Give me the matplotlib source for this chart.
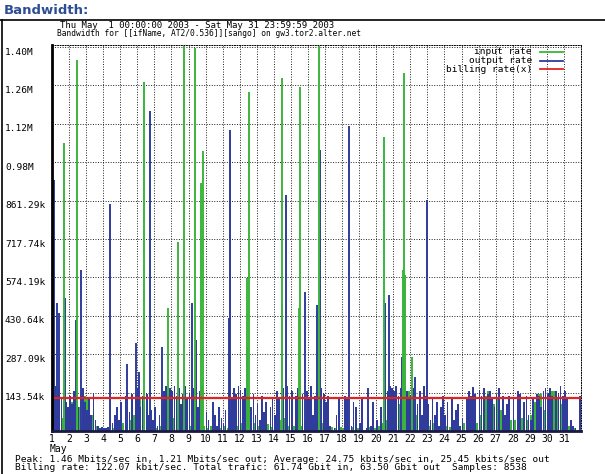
import numpy as np
import matplotlib.pyplot as plt
import matplotlib.transforms as mtransforms
from matplotlib.lines import Line2D

# ------------------------------------------------------------------
# data (kbit/s), May 2003
# ------------------------------------------------------------------
# output rate background, 8 samples per day (3 h bins), days 1..31
output_bg = [
    150, 170, 130, 160, 120, 140, 110, 90,
    130, 100, 150, 120, 90, 140, 160, 110,
    80, 120, 60, 140, 40, 20, 10, 15,
    12, 10, 15, 8, 30, 60, 90, 40,
    110, 0, 130, 150, 70, 140, 0, 120,
    160, 90, 130, 100, 140, 60, 80, 40,
    90, 20, 60, 100, 150, 170, 140, 160,
    150, 170, 130, 160, 100, 140, 170, 120,
    140, 0, 160, 130, 90, 150, 170, 0,
    70, 40, 0, 110, 60, 20, 90, 50,
    30, 80, 0, 60, 120, 160, 140, 170,
    150, 130, 160, 0, 120, 90, 140, 60,
    100, 40, 130, 70, 110, 0, 90, 120,
    60, 150, 120, 0, 160, 140, 170, 130,
    150, 0, 130, 160, 90, 140, 0, 150,
    120, 170, 60, 130, 150, 0, 160, 140,
    110, 130, 20, 0, 10, 60, 120, 0,
    0, 130, 120, 0, 20, 110, 90, 0,
    30, 120, 0, 10, 60, 20, 110, 0,
    40, 0, 90, 130, 160, 150, 170, 160,
    150, 170, 130, 160, 140, 170, 150, 120,
    130, 160, 140, 100, 150, 60, 170, 130,
    100, 40, 120, 60, 110, 20, 90, 130,
    60, 110, 0, 120, 40, 80, 100, 20,
    50, 0, 120, 150, 130, 160, 140, 0,
    150, 130, 160, 0, 140, 150, 120, 90,
    140, 160, 0, 130, 60, 100, 130, 0,
    120, 0, 150, 140, 0, 110, 130, 60,
    40, 120, 0, 140, 130, 90, 150, 160,
    140, 160, 130, 0, 150, 140, 170, 130,
    150, 120, 0, 40, 20, 10, 0, 130,
]

# input rate background, 4 samples per day (6 h bins)
input_bg = [
    60, 40, 50, 30,
    110, 120, 90, 130,
    120, 60, 20, 10,
    5, 5, 10, 20,
    30, 20, 40, 60,
    120, 80, 40, 20,
    10, 20, 30, 40,
    50, 30, 60, 20,
    20, 40, 30, 20,
    10, 20, 15, 10,
    20, 10, 15, 20,
    30, 20, 40, 30,
    20, 30, 25, 15,
    30, 40, 50, 20,
    20, 30, 20, 40,
    30, 20, 40, 30,
    20, 15, 10, 15,
    10, 20, 15, 10,
    10, 5, 15, 10,
    20, 30, 40, 60,
    80, 100, 200, 150,
    100, 60, 30, 40,
    20, 30, 20, 25,
    20, 15, 25, 20,
    30, 40, 35, 30,
    60, 130, 150, 100,
    120, 80, 60, 40,
    40, 30, 50, 40,
    60, 110, 140, 80,
    130, 150, 120, 100,
    40, 20, 10, 5,
]

# short bursts
input_spike_day = [1.68, 2.46, 6.41, 7.80, 8.40, 8.71, 9.38, 9.72, 9.83,
                   12.45, 12.52, 14.45, 14.50, 15.50, 15.53, 16.62,
                   20.47, 21.55, 21.64, 21.70, 22.10]
input_spike_val = [1078, 1387, 1306, 460, 708, 1440, 1431, 926, 1047,
                   572, 1268, 471, 1318, 460, 1287, 1440,
                   1098, 602, 1337, 583, 278]

output_spike_day = [1.05, 1.13, 1.30, 1.42, 1.78, 2.40, 2.70, 4.42, 5.40,
                    5.90, 6.10, 6.76, 7.44, 9.20, 9.45, 11.40, 11.44, 12.45,
                    14.70, 15.85, 16.55, 16.68, 18.42, 19.50, 20.50, 20.75,
                    21.50, 22.30, 22.97, 25.67]
output_spike_val = [800, 940, 478, 441, 497, 415, 602, 848, 250,
                    330, 220, 1196, 315, 478, 340, 422, 1125, 315,
                    882, 521, 471, 1050, 1140, 160, 478, 508,
                    278, 203, 863, 166]

billing_rate = 122.07
tick_step = 143.54
ytick_labels = ['143.54k', '287.09k', '430.64k', '574.19k', '717.74k',
                '861.29k', '0.98M', '1.12M', '1.26M', '1.40M']

green = '#3cb43c'
blue = '#2f3c9c'
red = '#e02424'
mono = 'DejaVu Sans Mono'

# ------------------------------------------------------------------
fig = plt.figure(figsize=(6.05, 4.74), dpi=100)
W, H = 605, 474
ax = fig.add_axes([52 / W, 43 / H, 529 / W, 386 / H])

out_x = 1 + np.arange(len(output_bg)) / 8
in_x = 1 + np.arange(len(input_bg)) / 4
ax.bar(in_x, input_bg, width=0.22, align='edge', color=green, linewidth=0)
ax.bar(out_x, output_bg, width=0.1, align='edge', color=blue, linewidth=0)
ax.vlines(output_spike_day, 0, output_spike_val, color=blue, lw=1.4)
ax.vlines(input_spike_day, 0, input_spike_val, color=green, lw=1.4)
ax.axhline(billing_rate, color=red, lw=1.6)

ax.set_xlim(1, 32)
ax.set_ylim(0, 1443)

# dotted grid
grid_kw = dict(color='#222222', lw=0.7, linestyle=(0, (1, 1.6)))
for d in range(2, 32):
    ax.axvline(d, zorder=0.5, **grid_kw)
for i in range(1, 11):
    ax.axhline(i * tick_step, zorder=0.5, **grid_kw)

for s in ['top', 'right']:
    ax.spines[s].set_linestyle((0, (1, 1.6)))
    ax.spines[s].set_linewidth(0.7)
ax.spines['left'].set_linewidth(2)
ax.spines['bottom'].set_linewidth(2)
ax.spines['bottom'].set_color('#1a1a40')

ax.set_yticks([])
ax.set_xticks(range(1, 32))
ax.set_xticklabels([str(d) for d in range(1, 32)], fontsize=7, family=mono)
ax.tick_params(axis='x', length=0, pad=2)

# y labels, left aligned near the frame edge
ytr = mtransforms.blended_transform_factory(fig.transFigure, ax.transData) + \
    mtransforms.ScaledTranslation(0, -5 / 100, fig.dpi_scale_trans)
for i, lab in enumerate(ytick_labels):
    ax.text(5 / W, (i + 1) * tick_step, lab, transform=ytr, ha='left',
            va='center', fontsize=6.8, family=mono, clip_on=False)

# texts around the plot
fig.text(4 / W, 1 - 10 / H, 'Bandwidth:', fontsize=9.5, fontweight='bold',
         color='#2d4e95', va='center', ha='left')
fig.text(60 / W, 1 - 25 / H,
         'Thu May  1 00:00:00 2003 - Sat May 31 23:59:59 2003',
         fontsize=6.5, family=mono, va='center')
fig.text(57 / W, 1 - 34 / H,
         'Bandwidth for [[ifName, AT2/0.536]][sango] on gw3.tor2.alter.net',
         fontsize=5.7, family=mono, va='center')
fig.text(50 / W, 1 - 449 / H, 'May', fontsize=7, family=mono, va='center')
fig.text(15 / W, 1 - 459 / H,
         'Peak: 1.46 Mbits/sec in, 1.21 Mbits/sec out; Average: 24.75 '
         'kbits/sec in, 25.45 kbits/sec out',
         fontsize=6.8, family=mono, va='center')
fig.text(15 / W, 1 - 468 / H,
         'Billing rate: 122.07 kbit/sec. Total trafic: 61.74 Gbit in, '
         '63.50 Gbit out  Samples: 8538',
         fontsize=6.8, family=mono, va='center')

# legend
for k, (lab, col) in enumerate([('input rate', green), ('output rate', blue),
                                ('billing rate(x)', red)]):
    yy = 1 - (52 + 8.5 * k) / H
    fig.text(532 / W, yy, lab, fontsize=6.8, family=mono, ha='right',
             va='center')
    fig.add_artist(Line2D([540 / W, 563 / W], [yy, yy], color=col, lw=1.3))

# outer frame
fig.add_artist(Line2D([0, 1], [1 - 20 / H, 1 - 20 / H], color='black', lw=1.2))
fig.add_artist(Line2D([2 / W, 2 / W], [0, 1 - 20 / H], color='black', lw=1.2))

fig.savefig('out.png', dpi=100, facecolor='white')
